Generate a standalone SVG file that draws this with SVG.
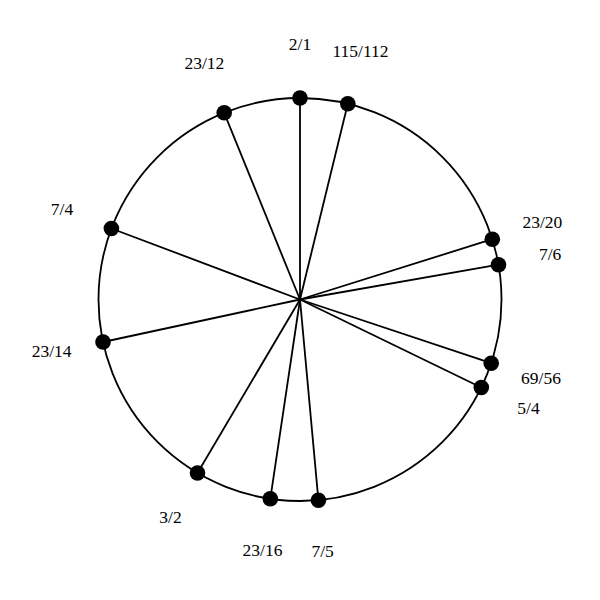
<svg xmlns="http://www.w3.org/2000/svg" width="600" height="600" viewBox="0 0 600 600">
<style>
.ring{fill:none;stroke:#000;stroke-width:1.8}
.spoke{stroke:#000;stroke-width:1.8}
.dot{fill:#000}
.lbl{font-family:"Liberation Serif","Times New Roman",serif;font-size:17.5px;fill:#000;text-anchor:middle}
</style>
<rect width="600" height="600" fill="#fff"/>
<circle class="ring" cx="300" cy="299.5" r="201.5"/>
<g id="connectors">
<line class="spoke" x1="300" y1="299.5" x2="300" y2="98"/>
<line class="spoke" x1="300" y1="299.5" x2="347.8" y2="103.8"/>
<line class="spoke" x1="300" y1="299.5" x2="492.3" y2="239.2"/>
<line class="spoke" x1="300" y1="299.5" x2="498.5" y2="264.7"/>
<line class="spoke" x1="300" y1="299.5" x2="491.2" y2="363.2"/>
<line class="spoke" x1="300" y1="299.5" x2="481.3" y2="387.5"/>
<line class="spoke" x1="300" y1="299.5" x2="318.4" y2="500.2"/>
<line class="spoke" x1="300" y1="299.5" x2="270.3" y2="498.8"/>
<line class="spoke" x1="300" y1="299.5" x2="197.5" y2="473"/>
<line class="spoke" x1="300" y1="299.5" x2="103" y2="342"/>
<line class="spoke" x1="300" y1="299.5" x2="111.4" y2="228.5"/>
<line class="spoke" x1="300" y1="299.5" x2="224.2" y2="112.8"/>
</g>
<g id="n-2-1"><circle class="dot" cx="300" cy="98" r="7.8"/><text class="lbl" x="300" y="49.5">2/1</text></g>
<g id="n-115-112"><circle class="dot" cx="347.8" cy="103.8" r="7.8"/><text class="lbl" x="360.5" y="56.5">115/112</text></g>
<g id="n-23-20"><circle class="dot" cx="492.3" cy="239.2" r="7.8"/><text class="lbl" x="542.4" y="227.5">23/20</text></g>
<g id="n-7-6"><circle class="dot" cx="498.5" cy="264.7" r="7.8"/><text class="lbl" x="550.2" y="259.7">7/6</text></g>
<g id="n-69-56"><circle class="dot" cx="491.2" cy="363.2" r="7.8"/><text class="lbl" x="541" y="383.5">69/56</text></g>
<g id="n-5-4"><circle class="dot" cx="481.3" cy="387.5" r="7.8"/><text class="lbl" x="528.5" y="413.5">5/4</text></g>
<g id="n-7-5"><circle class="dot" cx="318.4" cy="500.2" r="7.8"/><text class="lbl" x="322.7" y="556.5">7/5</text></g>
<g id="n-23-16"><circle class="dot" cx="270.3" cy="498.8" r="7.8"/><text class="lbl" x="262.5" y="556">23/16</text></g>
<g id="n-3-2"><circle class="dot" cx="197.5" cy="473" r="7.8"/><text class="lbl" x="170.5" y="522.5">3/2</text></g>
<g id="n-23-14"><circle class="dot" cx="103" cy="342" r="7.8"/><text class="lbl" x="51.7" y="357">23/14</text></g>
<g id="n-7-4"><circle class="dot" cx="111.4" cy="228.5" r="7.8"/><text class="lbl" x="62" y="215">7/4</text></g>
<g id="n-23-12"><circle class="dot" cx="224.2" cy="112.8" r="7.8"/><text class="lbl" x="204.4" y="68.5">23/12</text></g>
</svg>
